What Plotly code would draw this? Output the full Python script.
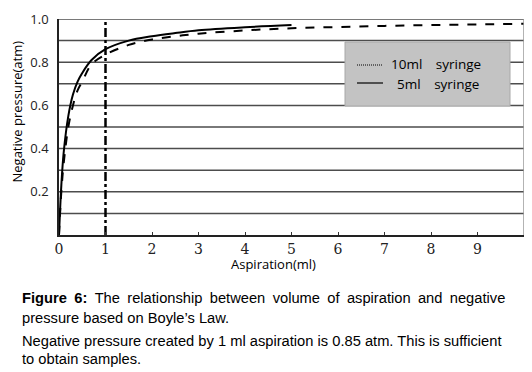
import plotly.graph_objects as go

# ---- data ----
x_5ml = [0, 0.05, 0.1, 0.2, 0.3, 0.4, 0.5, 0.7, 1.0, 1.5, 2.0, 2.5, 3.0, 4.0, 5.0]
p_5ml = [0, 0.23, 0.38, 0.55, 0.65, 0.71, 0.75, 0.81, 0.86, 0.90, 0.92, 0.935, 0.948, 0.962, 0.972]
x_10ml = [0, 0.05, 0.1, 0.2, 0.3, 0.4, 0.5, 0.7, 1.0, 1.5, 2.0, 2.5, 3.0, 4.0, 5.0, 6.0, 7.0, 8.0, 9.0, 10.0]
p_10ml = [0, 0.2, 0.33, 0.5, 0.6, 0.67, 0.71, 0.79, 0.835, 0.88, 0.905, 0.92, 0.932, 0.947, 0.957, 0.963, 0.968, 0.972, 0.975, 0.978]
marker_x = [1, 1]
marker_y = [0, 0.99]
x_ticks = [0, 1, 2, 3, 4, 5, 6, 7, 8, 9]
y_ticks = [0.2, 0.4, 0.6, 0.8, 1.0]
y_tick_text = ["0.2", "0.4", "0.6", "0.8", "1.0"]
grid_y = [0.1, 0.2, 0.3, 0.4, 0.5, 0.6, 0.7, 0.8, 0.9, 1.0]

W, H = 532, 372
OFF = 8  # page body margin in the browser
L, R, T, B = 59, 524, 19, 235

def px(xp):
    return (xp - L) / (R - L)

def py(yp):
    return (B - yp) / (B - T)

fig = go.Figure()
fig.add_trace(go.Scatter(x=x_10ml, y=p_10ml, mode="lines", line=dict(color="black", width=2, dash="dash", shape="spline"), showlegend=False))
fig.add_trace(go.Scatter(x=x_5ml, y=p_5ml, mode="lines", line=dict(color="black", width=2, shape="spline"), showlegend=False))
fig.add_trace(go.Scatter(x=marker_x, y=marker_y, mode="lines", line=dict(color="black", width=2.5, dash="dashdot"), showlegend=False))

shapes = []
for g in grid_y:
    shapes.append(dict(type="line", xref="paper", yref="y", x0=0, x1=1, y0=g, y1=g,
                       line=dict(color="#4d4d4d", width=1.5), layer="below"))
# right border
shapes.append(dict(type="line", xref="paper", yref="paper", x0=1, x1=1, y0=0, y1=1,
                   line=dict(color="#9a9a9a", width=1.5)))
# legend box
shapes.append(dict(type="rect", xref="paper", yref="paper", x0=px(345), x1=px(510), y0=py(106), y1=py(42),
                   fillcolor="#c3c3c3", line=dict(color="#a8a8a8", width=1)))
shapes.append(dict(type="line", xref="paper", yref="paper", x0=px(357), x1=px(383), y0=py(65), y1=py(65),
                   line=dict(color="black", width=1, dash="1px,1px")))
shapes.append(dict(type="line", xref="paper", yref="paper", x0=px(357), x1=px(383), y0=py(83), y1=py(83),
                   line=dict(color="black", width=1.2)))

ann = []
ann.append(dict(text="10ml\u2002\u2002syringe", x=px(389), y=py(64), xref="paper", yref="paper", xanchor="left", yanchor="middle",
                showarrow=False, font=dict(family="Open Sans, DejaVu Sans", size=13.5, color="black")))
ann.append(dict(text="5ml\u2002\u2002syringe", x=px(395), y=py(84), xref="paper", yref="paper", xanchor="left", yanchor="middle",
                showarrow=False, font=dict(family="Open Sans, DejaVu Sans", size=13.5, color="black")))
ann.append(dict(text="Aspiration(ml)", x=px(273), y=py(264), xref="paper", yref="paper", xanchor="center", yanchor="middle",
                showarrow=False, font=dict(family="Open Sans, DejaVu Sans", size=13, color="black")))
ann.append(dict(text="Negative pressure(atm)", x=px(16.5), y=py(112), xref="paper", yref="paper", xanchor="center", yanchor="middle",
                textangle=-90, showarrow=False, font=dict(family="Open Sans, DejaVu Sans", size=13, color="black")))

cap_font = dict(family="Liberation Sans, Arial", size=14.7, color="black")
SP = "\u2002"
cap_lines = [
    (298, "<b>Figure" + SP + "6:</b>" + SP + SP.join("The relationship between volume of aspiration and negative".split(" "))),
    (318, "pressure based on Boyle’s Law."),
    (341, "Negative pressure created by 1 ml aspiration is 0.85 atm. This is sufficient"),
    (359, "to obtain samples."),
]
for yy, t in cap_lines:
    ann.append(dict(text=t, x=px(20), y=py(yy), xref="paper", yref="paper", xanchor="left", yanchor="middle",
                    showarrow=False, font=cap_font))

fig.update_layout(
    width=W - OFF, height=H - OFF,
    margin=dict(l=L - OFF, r=W - R, t=T - OFF, b=H - B, autoexpand=False),
    paper_bgcolor="white", plot_bgcolor="white",
    shapes=shapes, annotations=ann,
    xaxis=dict(range=[0, 10], tickvals=x_ticks, ticks="inside", ticklen=3, tickcolor="#333",
               showgrid=False, zeroline=False, showline=True, linecolor="#222", linewidth=1.5,
               automargin=False,
               tickfont=dict(family="DejaVu Serif, Liberation Serif", size=14, color="#222")),
    yaxis=dict(range=[0, 1.0], tickvals=y_ticks, ticktext=y_tick_text, ticks="",
               showgrid=False, zeroline=False, showline=True, linecolor="#222", linewidth=1.5,
               automargin=False, ticklabelstandoff=6,
               tickfont=dict(family="Open Sans, DejaVu Sans", size=13, color="#222")),
)

fig.write_html("out.html")
